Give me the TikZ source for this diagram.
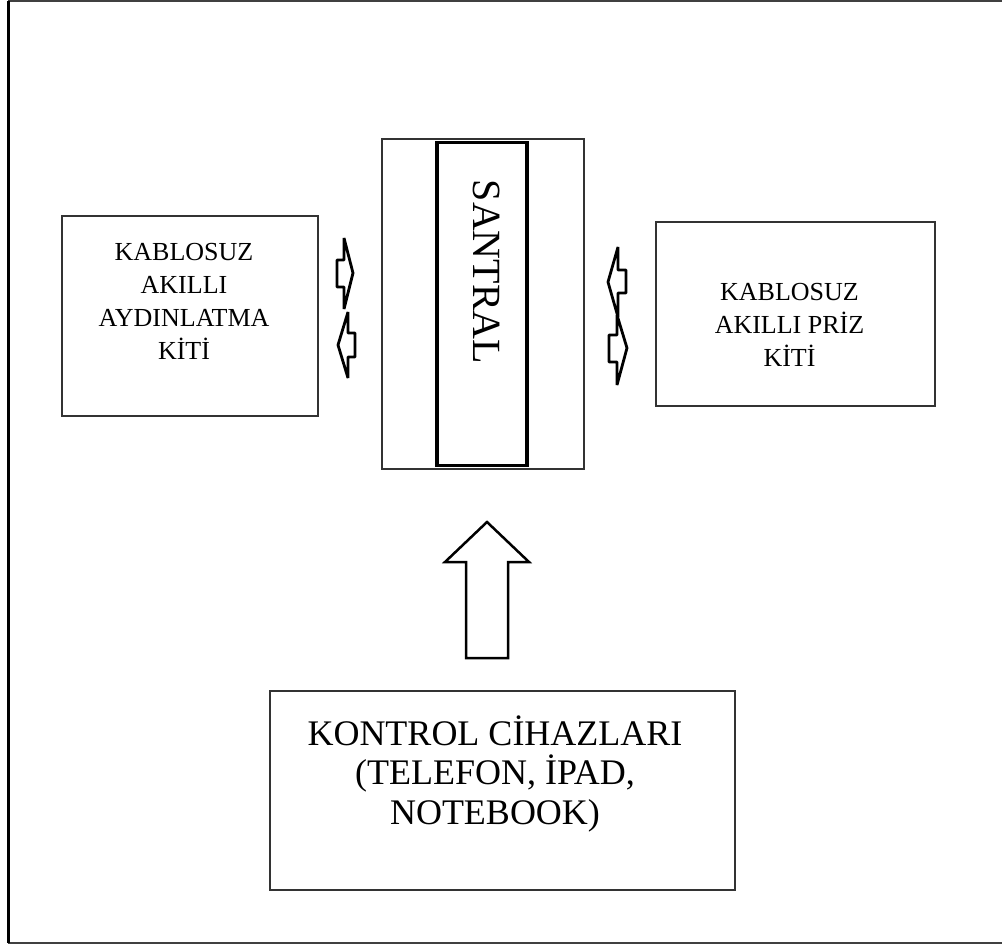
\documentclass[tikz,border=0pt]{standalone}
\usepackage{fontspec}
\setmainfont{Liberation Serif}
\usetikzlibrary{positioning}

\begin{document}
\begin{tikzpicture}[x=1pt,y=-1pt,on grid,
    box/.style={draw=black!80,line width=1.5pt,inner sep=0pt},
    kit/.style={align=center,font=\fontsize{26}{33}\selectfont},
    smallarrow/.style={draw,line width=2.8pt,fill=white,line join=bevel},
    bigarrow/.style={draw,line width=2.5pt,fill=white,line join=miter}]
  \useasboundingbox (0,0) rectangle (1002,946);
  % frame
  \draw[black!75,line width=2pt] (1010,1) -- (8.5,1) -- (8.5,943) -- (1010,943);
  \draw[line width=3pt] (8.5,1) -- (8.5,943);

  \node[box,minimum width=202pt,minimum height=330pt] (santral) at (483,304) {};
  \node[draw,line width=3.5pt,minimum width=90pt,minimum height=323pt,xshift=-1pt] (santralic) at (santral) {};
  \node[rotate=-90,font=\fontsize{40}{40}\selectfont] (santralyazi) at (487,272) {SANTRAL};

  \node[box,minimum width=256pt,minimum height=200pt] (aydinlatma) [below left=12pt and 293pt of santral] {};
  \node[box,minimum width=279pt,minimum height=184pt] (priz) [below right=10pt and 312.5pt of santral] {};
  \node[box,minimum width=465pt,minimum height=199pt] (kontrol) [below right=486.5pt and 19.5pt of santral] {};

  \node[kit,xshift=-6pt,yshift=15pt] (aydinlatmayazi) at (aydinlatma) {KABLOSUZ\\AKILLI\\AYDINLATMA\\KİTİ};
  \node[kit,xshift=-6pt,yshift=-11pt] (prizyazi) at (priz) {KABLOSUZ\\AKILLI PRİZ\\KİTİ};
  \node[align=center,font=\fontsize{36}{39.5}\selectfont,xshift=-7.5pt,yshift=17pt] (kontrolyazi) at (kontrol)
    {KONTROL CİHAZLARI\\(TELEFON, İPAD,\\NOTEBOOK)};

  % arrows
  \draw[smallarrow] (337,260) -- (344,260) -- (344,238) -- (353,273) -- (344,309) -- (344,287) -- (337,287) -- cycle;
  \draw[smallarrow] (355,333) -- (348,333) -- (348,312) -- (338,345) -- (348,378) -- (348,357) -- (355,357) -- cycle;
  \draw[smallarrow] (626,270) -- (618,270) -- (618,247) -- (608,282) -- (618,317) -- (618,293) -- (626,293) -- cycle;
  \draw[smallarrow] (609,335) -- (617,335) -- (617,315) -- (627,348) -- (617,385) -- (617,362) -- (609,362) -- cycle;
  \draw[bigarrow] (466,658) -- (466,562) -- (445,562) -- (487,522) -- (529,562) -- (508,562) -- (508,658) -- cycle;
\end{tikzpicture}
\end{document}
